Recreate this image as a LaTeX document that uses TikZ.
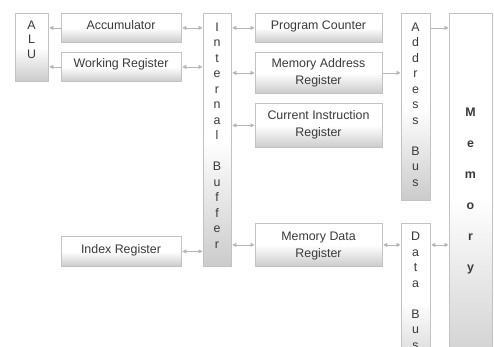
\documentclass[tikz,border=0pt]{standalone}
\usepackage{fontspec}
\setmainfont{Liberation Sans}
\usetikzlibrary{arrows.meta}

\definecolor{edgegray}{HTML}{C2C2C2}
\definecolor{fillgray}{HTML}{CBCBCB}
\definecolor{arrowgray}{HTML}{B5B5B5}
\definecolor{inkgray}{HTML}{3A3A3A}

% centred column of lines with a fixed baseline distance;
% the box's baseline is that of its first line
\newcommand{\linestack}[2]{\vtop{\baselineskip=#1\lineskiplimit=-100pt\halign{\hfil##\hfil\cr #2\crcr}}}

\tikzset{
  unit/.style={draw=edgegray, line width=0.8pt,
    top color=white, bottom color=fillgray, middle color=white,
    inner sep=0pt, anchor=north west},
  txt/.style={anchor=base, inner sep=0pt, text=inkgray,
    font=\fontsize{12.4}{14}\selectfont},
  tipshape/.tip={Triangle[length=4pt,width=4pt]},
  oneway/.style={draw=arrowgray, line width=0.7pt, -tipshape, shorten >=0.5pt, shorten <=0.5pt},
  twoway/.style={draw=arrowgray, line width=0.7pt, tipshape-tipshape, shorten >=0.5pt, shorten <=0.5pt}
}

\begin{document}
\begin{tikzpicture}[x=1pt, y=-1pt]
\useasboundingbox (0,0) rectangle (494,347);
\clip (0,0) rectangle (494,347);

% processor side
\node[unit, minimum width=33pt,  minimum height=68pt]  (alu)  at (15,13)  {};
\node[unit, minimum width=120pt, minimum height=29pt]  (acc)  at (61,13)  {};
\node[unit, minimum width=120pt, minimum height=29pt]  (wreg) at (61,52)  {};
\node[unit, minimum width=120pt, minimum height=30pt]  (ireg) at (61,236) {};
\node[unit, minimum width=28pt,  minimum height=253pt] (buf)  at (203,13) {};
\node[unit, minimum width=127pt, minimum height=29pt]  (pc)   at (255,13) {};
\node[unit, minimum width=127pt, minimum height=41pt]  (mar)  at (255,52) {};
\node[unit, minimum width=127pt, minimum height=44pt]  (cir)  at (255,103) {};
\node[unit, minimum width=127pt, minimum height=43pt]  (mdr)  at (255,223) {};

% buses and memory
\node[unit, minimum width=29pt, minimum height=187pt] (abus) at (401,13)  {};
\node[unit, minimum width=29pt, minimum height=157pt] (dbus) at (401,223) {};
\node[unit, minimum width=43pt, minimum height=367pt] (mem)  at (449,13)  {};

% labels
\node[txt] (alut)  at (31.5,29.5)  {\linestack{14.5pt}{A\cr L\cr U}};
\node[txt] (acct)  at (121,29.5)   {Accumulator};
\node[txt] (wregt) at (121,67.5)   {Working Register};
\node[txt] (iregt) at (121,253.5)  {Index Register};
\node[txt] (buft)  at (217,31.5)   {\linestack{15.5pt}{I\cr n\cr t\cr e\cr r\cr n\cr a\cr l\cr\cr B\cr u\cr f\cr f\cr e\cr r}};
\node[txt] (pct)   at (318.5,29.5) {Program Counter};
\node[txt] (mart)  at (318.5,67.5) {\linestack{17pt}{Memory Address\cr Register}};
\node[txt] (cirt)  at (318.5,119.5) {\linestack{17pt}{Current Instruction\cr Register}};
\node[txt] (mdrt)  at (318.5,240.5) {\linestack{17pt}{Memory Data\cr Register}};
\node[txt] (abust) at (415.5,31.5) {\linestack{15.5pt}{A\cr d\cr d\cr r\cr e\cr s\cr s\cr\cr B\cr u\cr s}};
\node[txt] (dbust) at (415.5,240.5) {\linestack{15.5pt}{D\cr a\cr t\cr a\cr\cr B\cr u\cr s}};
\node[txt, font=\fontsize{12.4}{14}\selectfont\bfseries] (memt) at (470.5,116.5) {\linestack{31pt}{M\cr e\cr m\cr o\cr r\cr y}};

% connectors
\draw[oneway] (acc.west)  -- (acc.west -| alu.east);
\draw[oneway] (wreg.west) -- (wreg.west -| alu.east);
\draw[twoway] (acc.east)  -- (acc.east -| buf.west);
\draw[twoway] (wreg.east) -- (wreg.east -| buf.west);
\draw[twoway] (ireg.east) -- (ireg.east -| buf.west);
\draw[twoway] (pc.west -| buf.east)  -- (pc.west);
\draw[twoway] (mar.west -| buf.east) -- (mar.west);
\draw[twoway] (cir.west -| buf.east) -- (cir.west);
\draw[twoway] (mdr.west -| buf.east) -- (mdr.west);
\draw[oneway] (mar.east) -- (mar.east -| abus.west);
\draw[oneway] (pc.east -| abus.east) -- (pc.east -| mem.west);
\draw[twoway] (mdr.east) -- (mdr.east -| dbus.west);
\draw[twoway] (mdr.east -| dbus.east) -- (mdr.east -| mem.west);
\end{tikzpicture}
\end{document}
